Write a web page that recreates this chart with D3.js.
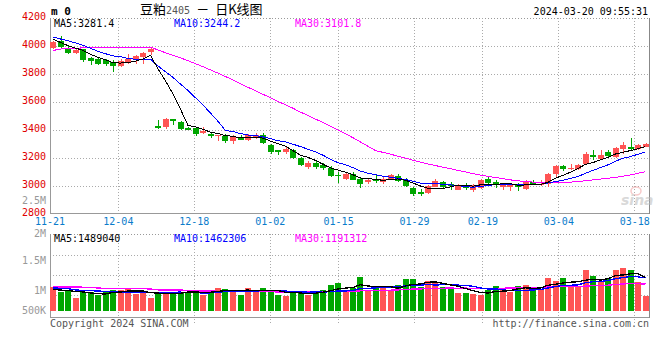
<!DOCTYPE html>
<html><head><meta charset="utf-8">
<script src="https://cdn.jsdelivr.net/npm/d3@7"></script>
<style>html,body{margin:0;padding:0;background:#fff;}svg{display:block}</style>
</head><body><svg id="c" width="660" height="360"></svg>
<script>
const dates = ["11-21","11-22","11-23","11-24","11-27","11-28","11-29","11-30","12-01","12-04","12-05","12-06","12-07","12-08","12-11","12-12","12-13","12-14","12-15","12-18","12-19","12-20","12-21","12-22","12-25","12-26","12-27","12-28","12-29","01-02","01-03","01-04","01-05","01-08","01-09","01-10","01-11","01-12","01-15","01-16","01-17","01-18","01-19","01-22","01-23","01-24","01-25","01-26","01-29","01-30","01-31","02-01","02-02","02-05","02-06","02-07","02-08","02-19","02-20","02-21","02-22","02-23","02-26","02-27","02-28","02-29","03-01","03-04","03-05","03-06","03-07","03-08","03-11","03-12","03-13","03-14","03-15","03-18","03-19","03-20"];
const openP = [3986,4033,3981,3950,3976,3914,3910,3903,3886,3855,3886,3898,3922,3957,3429,3422,3481,3457,3417,3414,3381,3374,3355,3355,3319,3350,3331,3345,3362,3295,3260,3243,3255,3200,3136,3164,3148,3129,3081,3052,3088,3052,3029,3045,3029,3052,3069,3041,2986,2957,2950,2993,3029,3012,2974,3005,2969,2988,3048,3029,2993,2993,3005,2976,3029,3005,3012,3083,3141,3122,3122,3155,3219,3195,3243,3207,3262,3279,3262,3279];
const highP = [4035,4069,3998,3979,3980,3922,3922,3910,3898,3910,3941,3934,3957,3993,3469,3483,3481,3464,3422,3422,3422,3386,3367,3369,3362,3362,3369,3379,3379,3302,3260,3279,3267,3207,3176,3176,3164,3141,3100,3100,3100,3064,3057,3076,3064,3088,3088,3057,2993,2981,3005,3053,3036,3029,3017,3022,3017,3053,3064,3045,3005,3005,3022,3041,3045,3041,3093,3148,3148,3160,3155,3243,3260,3257,3260,3279,3314,3345,3303,3306];
const lowP = [3980,3988,3943,3941,3886,3864,3867,3857,3814,3850,3874,3874,3874,3934,3410,3405,3434,3398,3398,3355,3369,3345,3322,3307,3302,3331,3319,3338,3302,3226,3219,3231,3195,3141,3124,3124,3117,3064,3024,3045,3040,2986,3012,3022,3012,3045,3029,2993,2929,2926,2945,2993,2988,2969,2969,2974,2957,2981,3017,2988,2969,2964,2964,2969,3005,2998,2993,3064,3107,3117,3117,3148,3188,3188,3203,3203,3231,3260,3257,3276];
const closeP = [4029,3993,3950,3969,3903,3893,3874,3874,3857,3893,3910,3929,3950,3981,3414,3481,3462,3405,3400,3369,3391,3355,3362,3319,3350,3331,3362,3362,3307,3243,3243,3267,3200,3148,3164,3136,3129,3069,3069,3088,3045,3017,3045,3043,3052,3076,3036,2998,2945,2945,2998,3036,2993,2998,3010,2988,3005,3041,3022,3005,3005,3005,2993,3029,3012,3012,3088,3141,3124,3129,3148,3231,3205,3224,3212,3272,3291,3267,3291,3303];
const volume = [1053000,842000,909000,555000,842000,813000,699000,813000,928000,909000,1024000,737000,785000,555000,842000,842000,813000,852000,813000,880000,708000,880000,1024000,986000,880000,708000,1024000,842000,1024000,880000,708000,670000,842000,842000,699000,842000,909000,1168000,1225000,909000,995000,1493000,909000,1053000,995000,909000,1158000,1407000,1407000,1072000,1311000,1235000,1072000,1053000,794000,794000,756000,679000,938000,1101000,909000,842000,1101000,1158000,986000,986000,1455000,1311000,1455000,1158000,1081000,1799000,1541000,1263000,1455000,1799000,1924000,1799000,1282000,670000];
const ma5 = [4050,4025,4003,3985,3968.8,3941.6,3917.8,3902.6,3880.2,3878.2,3881.6,3892.6,3907.8,3932.6,3836.8,3751,3657.6,3548.6,3432.4,3423.4,3405.4,3384,3375.4,3359.2,3355.4,3343.4,3344.8,3344.8,3342.4,3321,3303.4,3284.4,3252,3220.2,3204.4,3183,3155.4,3129.2,3113.4,3098.2,3080,3057.6,3052.8,3047.6,3040.4,3046.6,3050.4,3041,3021.4,3000,2984.4,2984.4,2983.4,2994,3007,3005,2998.8,3008.4,3013.2,3012.2,3015.6,3015.6,3006,3007.4,3008.8,3010.2,3026.8,3056.4,3075.4,3098.8,3126,3154.6,3167.4,3187.4,3204,3228.8,3240.8,3253.2,3266.6,3281.4];
const ma10 = [4065,4050,4038,4022,4005,3984,3962,3945,3929,3923.5,3911.6,3905.2,3905.2,3906.4,3857.5,3816.3,3775.1,3728.2,3682.5,3630.1,3578.2,3520.8,3462,3395.8,3389.4,3374.4,3364.4,3360.1,3350.8,3338.2,3323.4,3314.6,3298.4,3281.3,3262.7,3243.2,3219.9,3190.6,3166.8,3151.3,3131.5,3106.5,3091,3080.5,3069.3,3063.3,3054,3046.9,3034.5,3020.2,3015.5,3017.4,3012.2,3007.7,3003.5,2994.7,2991.6,2995.9,3003.6,3009.6,3010.3,3007.2,3007.2,3010.3,3010.5,3012.9,3021.2,3031.2,3041.4,3053.8,3068.1,3090.7,3111.9,3131.4,3151.4,3177.4,3197.7,3210.3,3227,3244.2];
const ma30 = [3968,3978,3983,3985,3986,3986,3986,3986,3986,3986,3986,3990,3992,3992,3972,3952,3934,3915,3895,3874,3852,3829,3806,3782,3757,3731,3705,3680,3655,3630.6,3604.4,3580.2,3555.2,3527.8,3503.2,3478,3453.1,3426.3,3400,3373.2,3344.4,3314,3283.8,3252.5,3240.5,3227,3212.8,3199.2,3184,3169.9,3156.8,3146.2,3133.9,3123.2,3111.8,3100.4,3088.5,3077.8,3068.3,3060.4,3052.4,3043.7,3036.8,3032.8,3027.8,3023.6,3022.3,3024.7,3026.5,3027.9,3031.3,3038.4,3043.8,3049.8,3055.1,3061.7,3070.2,3079.1,3090.7,3101.8];
const volMa5 = [950000,920000,900000,860000,840000,792000,764000,744000,819000,832000,875000,882000,877000,802000,789000,752000,767000,781000,832000,840000,813000,827000,861000,896000,896000,896000,924000,888000,896000,896000,896000,825000,825000,788000,752000,779000,827000,892000,969000,1011000,1041000,1158000,1106000,1072000,1089000,1072000,1005000,1104000,1175000,1191000,1271000,1286000,1219000,1149000,1093000,990000,894000,815000,792000,854000,877000,894000,978000,1022000,999000,1015000,1137000,1179000,1239000,1273000,1292000,1361000,1407000,1368000,1428000,1571000,1596000,1648000,1652000,1489040];
const volMa10 = [1020000,1000000,980000,930000,900000,890000,880000,860000,850000,836000,833000,823000,811000,811000,811000,813000,825000,829000,817000,814000,783000,797000,821000,864000,868000,854000,876000,875000,896000,896000,896000,875000,856000,842000,824000,837000,826000,858000,879000,881000,910000,992000,999000,1020000,1050000,1057000,1081000,1105000,1124000,1140000,1171000,1146000,1162000,1162000,1142000,1130000,1090000,1017000,970000,973000,933000,894000,897000,907000,926000,946000,1016000,1079000,1130000,1136000,1153000,1249000,1293000,1304000,1350000,1432000,1479000,1527000,1510000,1462306];
const volMa30 = [1060000,1060000,1060000,1060000,1050000,1050000,1010000,1000000,1000000,1000000,990000,990000,980000,970000,930000,930000,920000,920000,910000,880000,880000,880000,870000,870000,870000,860000,860000,860000,850000,849000,837000,832000,829000,839000,834000,835000,842000,854000,864000,864000,863000,888000,892000,909000,914000,916000,928000,946000,966000,972000,992000,1004000,1006000,1008000,1005000,1008000,999000,994000,991000,998000,1005000,1011000,1019000,1030000,1039000,1044000,1062000,1067000,1075000,1083000,1086000,1096000,1117000,1124000,1140000,1169000,1195000,1208000,1204000,1191312];
const priceTicks = [4200,4000,3800,3600,3400,3200,3000,2800];
const volTicks = [2500000,2000000,1500000,1000000,500000];
const volTickLabels = ["2.5M","2M","1.5M","1M","500K"];
const dateTicks = ["11-21","12-04","12-18","01-02","01-15","01-29","02-19","03-04","03-18"];
const priceLegend = [["MA5:3281.4","#000"],["MA10:3244.2","#0000ff"],["MA30:3101.8","#ff00ff"]];
const volLegend = [["MA5:1489040","#000"],["MA10:1462306","#0000ff"],["MA30:1191312","#ff00ff"]];

const svg = d3.select("#c");
const mono = "'DejaVu Sans Mono','Liberation Mono',monospace";
const cjk = "'Noto Sans CJK SC','Noto Sans',sans-serif";
const RED = "#ff5454", GREEN = "#00a600", GRID = "#aaa";
const n = dates.length;

const xSlot = d3.scaleLinear().domain([0, n]).range([50, 650]);
const xGrid = d3.scaleLinear().domain([0, n - 1]).range([50, 650]);
const yP = d3.scaleLinear().domain([2800, 4200]).range([214, 18]);
const yV = d3.scaleLinear().domain([0, 1e6]).range([310.7, 288.3]);
const yVLab = d3.scaleLinear().domain([1e6, 2e6]).range([290.7, 230.7]);
const volGrid = d3.scaleLinear().domain([0, 4]).range([235, 315]);
const X_LABEL_BASE = 225;

const px = v => Math.floor(v) + 0.5;
const left = i => Math.round(xSlot(i));
const cx = i => xSlot(i) + 3;

// ---------- price panel grid ----------
const gP = svg.append("g").attr("shape-rendering", "crispEdges");
gP.selectAll("line.h").data(priceTicks.filter(t => t > 2800)).join("line")
  .attr("x1", 50).attr("x2", 649).attr("y1", d => px(yP(d))).attr("y2", d => px(yP(d)))
  .attr("stroke", d => d === 4200 ? "#999" : GRID).attr("stroke-dasharray", "1,2");
gP.selectAll("line.v").data(dateTicks.slice(1)).join("line")
  .attr("x1", d => px(xGrid(dates.indexOf(d)))).attr("x2", d => px(xGrid(dates.indexOf(d))))
  .attr("y1", 18).attr("y2", 213).attr("stroke", GRID).attr("stroke-dasharray", "1,2");
gP.append("line").attr("x1", 50.5).attr("x2", 50.5).attr("y1", 18).attr("y2", 214).attr("stroke", "#999");
gP.append("line").attr("x1", 50).attr("x2", 650).attr("y1", 213.5).attr("y2", 213.5).attr("stroke", "#999");
gP.append("line").attr("x1", 649.5).attr("x2", 649.5).attr("y1", 18).attr("y2", 214).attr("stroke", "#888");

// watermark
const wm = svg.append("g").attr("opacity", 0.55);
wm.append("ellipse").attr("cx", 636).attr("cy", 191).attr("rx", 5).attr("ry", 4).attr("fill", "none").attr("stroke", "#f2a0a0").attr("stroke-width", 1.5);
wm.append("text").attr("x", 621).attr("y", 205).attr("font-family", "'DejaVu Sans',sans-serif").attr("font-size", 14).attr("font-style", "italic").attr("font-weight", "bold").attr("fill", "#bbb").text("sina");

// y labels (price)
svg.selectAll("text.py").data(priceTicks).join("text")
  .attr("x", 46).attr("y", d => yP(d) - 1.5).attr("text-anchor", "end").attr("dominant-baseline", "middle")
  .attr("font-family", mono).attr("font-size", 10).attr("fill", "#e00000").text(d => d);

// volume labels (a label that would collide with the date row is pushed just below it)
const volLabelY = d => {
  let y = Math.min(yVLab(d), 310.7);
  if (y > X_LABEL_BASE - 12 && y < X_LABEL_BASE + 8.7) y = X_LABEL_BASE + 8.7;
  return y;
};
svg.selectAll("text.vy").data(volTicks).join("text")
  .attr("x", 46).attr("y", volLabelY).attr("text-anchor", "end").attr("dominant-baseline", "middle")
  .attr("font-family", mono).attr("font-size", 10).attr("fill", "#999").text((d, i) => volTickLabels[i]);

// x labels
svg.selectAll("text.xl").data(dateTicks).join("text")
  .attr("x", d => xGrid(dates.indexOf(d))).attr("y", X_LABEL_BASE).attr("text-anchor", "middle")
  .attr("font-family", mono).attr("font-size", 10).attr("fill", "#0a7ccb").text(d => d);

// ---------- candles ----------
const idx = d3.range(n);
const gc = svg.append("g").attr("shape-rendering", "crispEdges");
gc.selectAll("rect.w").data(idx).join("rect")
  .attr("x", i => left(i) + 3).attr("width", 1)
  .attr("y", i => Math.round(yP(highP[i]))).attr("height", i => Math.max(1, Math.round(yP(lowP[i])) - Math.round(yP(highP[i]))))
  .attr("fill", i => closeP[i] >= openP[i] ? RED : GREEN);
gc.selectAll("rect.b").data(idx).join("rect")
  .attr("x", i => left(i)).attr("width", 6)
  .attr("y", i => Math.round(yP(Math.max(openP[i], closeP[i]))))
  .attr("height", i => Math.max(1, Math.round(yP(Math.min(openP[i], closeP[i]))) - Math.round(yP(Math.max(openP[i], closeP[i])))))
  .attr("fill", i => closeP[i] >= openP[i] ? RED : GREEN);

// clip
svg.append("clipPath").attr("id", "pc").append("rect").attr("x", 51).attr("y", 18).attr("width", 598).attr("height", 195);
svg.append("clipPath").attr("id", "vc").append("rect").attr("x", 51).attr("y", 235).attr("width", 598).attr("height", 82);

const lineP = arr => d3.line().x((d, i) => cx(i)).y(d => yP(d))(arr);
const gl = svg.append("g").attr("clip-path", "url(#pc)").attr("fill", "none").attr("shape-rendering", "crispEdges");
gl.append("path").attr("d", lineP(ma30)).attr("stroke", "#ff00ff");
gl.append("path").attr("d", lineP(ma10)).attr("stroke", "#0000ff");
gl.append("path").attr("d", lineP(ma5)).attr("stroke", "#000");

// price legend
svg.selectAll("text.pl").data(priceLegend).join("text")
  .attr("x", (d, i) => [54, 174, 295][i]).attr("y", 27)
  .attr("font-family", mono).attr("font-size", 10).attr("fill", d => d[1]).text(d => d[0]);

// ---------- volume panel ----------
const gV = svg.append("g").attr("shape-rendering", "crispEdges");
gV.selectAll("line.h").data([1, 2, 3]).join("line")
  .attr("x1", 50).attr("x2", 649).attr("y1", d => px(volGrid(d))).attr("y2", d => px(volGrid(d)))
  .attr("stroke", GRID).attr("stroke-dasharray", "1,2");
gV.selectAll("line.v").data(dateTicks.slice(1)).join("line")
  .attr("x1", d => px(xGrid(dates.indexOf(d)))).attr("x2", d => px(xGrid(dates.indexOf(d))))
  .attr("y1", 234).attr("y2", 317).attr("stroke", GRID).attr("stroke-dasharray", "1,2");
gV.selectAll("line.t").data(dateTicks.slice(1)).join("line")
  .attr("x1", d => px(xGrid(dates.indexOf(d)))).attr("x2", d => px(xGrid(dates.indexOf(d))))
  .attr("y1", 319).attr("y2", 323).attr("stroke", GRID).attr("stroke-dasharray", "1,2");
gV.append("line").attr("x1", 50).attr("x2", 649).attr("y1", 234.5).attr("y2", 234.5).attr("stroke", "#999").attr("stroke-dasharray", "1,2");
gV.append("line").attr("x1", 50.5).attr("x2", 50.5).attr("y1", 234).attr("y2", 318).attr("stroke", "#999");
gV.append("line").attr("x1", 50).attr("x2", 650).attr("y1", 317.5).attr("y2", 317.5).attr("stroke", "#999");
gV.append("line").attr("x1", 649.5).attr("x2", 649.5).attr("y1", 234).attr("y2", 318).attr("stroke", "#888");

gV.selectAll("rect.vb").data(idx).join("rect")
  .attr("x", i => left(i)).attr("width", 6)
  .attr("y", i => Math.round(yV(volume[i]))).attr("height", i => Math.round(yV(0)) - Math.round(yV(volume[i])))
  .attr("fill", i => closeP[i] >= openP[i] ? RED : GREEN);

const lineV = arr => d3.line().x((d, i) => cx(i)).y(d => yV(d))(arr);
const gvl = svg.append("g").attr("clip-path", "url(#vc)").attr("fill", "none").attr("shape-rendering", "crispEdges").attr("stroke-width", 1.3);
gvl.append("path").attr("d", lineV(volMa30)).attr("stroke", "#ff00ff");
gvl.append("path").attr("d", lineV(volMa10)).attr("stroke", "#0000ff");
gvl.append("path").attr("d", lineV(volMa5)).attr("stroke", "#000");

svg.selectAll("text.vl").data(volLegend).join("text")
  .attr("x", (d, i) => [54, 174, 295][i]).attr("y", 241.5)
  .attr("font-family", mono).attr("font-size", 10).attr("fill", d => d[1]).text(d => d[0]);

// ---------- header & footer ----------
svg.append("text").attr("x", 51).attr("y", 15).attr("font-family", mono).attr("font-size", 11).attr("font-weight", "bold").attr("fill", "#000").text("m 0");
const t = svg.append("text").attr("x", 140).attr("y", 13.5).attr("fill", "#000");
t.append("tspan").attr("font-family", cjk).attr("font-size", 13).text("豆粕");
t.append("tspan").attr("font-family", mono).attr("font-size", 10).attr("fill", "#555").text("2405");
t.append("tspan").attr("font-family", mono).attr("font-size", 10).text(" ");
t.append("tspan").attr("font-family", cjk).attr("font-size", 13).text("－");
t.append("tspan").attr("font-family", mono).attr("font-size", 10).text(" ");
t.append("tspan").attr("font-family", cjk).attr("font-size", 13).text("日K线图");
svg.append("text").attr("x", 648).attr("y", 15).attr("text-anchor", "end").attr("font-family", mono).attr("font-size", 10).attr("fill", "#000").text("2024-03-20 09:55:31");
svg.append("text").attr("x", 50).attr("y", 327).attr("font-family", mono).attr("font-size", 10).attr("fill", "#555").text("Copyright 2024 SINA.COM");
svg.append("text").attr("x", 649).attr("y", 327).attr("text-anchor", "end").attr("font-family", mono).attr("font-size", 10).attr("fill", "#555").text("http://finance.sina.com.cn");
</script></body></html>
